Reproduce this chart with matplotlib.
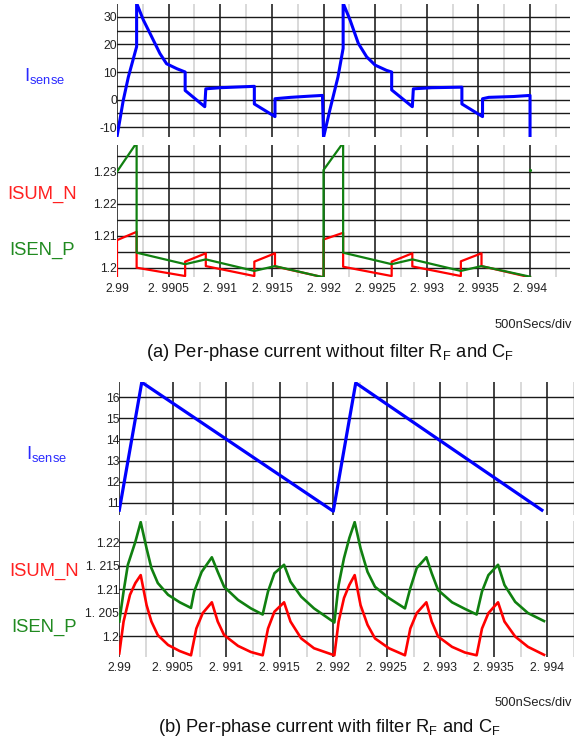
import numpy as np
import matplotlib
matplotlib.use('Agg')
from matplotlib import pyplot as plt

plt.rcParams['font.family'] = ['Liberation Sans', 'DejaVu Sans']

# ---- (a) フィルタなし ----
ta_isense = [2.99, 2.99006, 2.99011, 2.99019, 2.99019, 2.990255, 2.99032, 2.990416, 2.99048,
             2.99058, 2.99066, 2.99066, 2.99085, 2.99086, 2.991, 2.99133, 2.99133, 2.99153,
             2.99153, 2.99168, 2.99185, 2.99199, 2.992,
             2.99206, 2.99214, 2.99219, 2.99219, 2.992257, 2.992337, 2.992418, 2.9925, 2.99261,
             2.99266, 2.99266, 2.99286, 2.99287, 2.99305, 2.99334, 2.99334, 2.99354, 2.99354,
             2.9936, 2.99384, 2.994, 2.994]
va_isense = [-13.5, -0.4, 8.2, 19.2, 35, 28.9, 24.0, 16.7, 13.0,
             11.2, 10.0, 3.3, -2.6, 3.9, 4.3, 4.8, -1.6, -6.2,
             0.3, 0.8, 1.2, 1.5, -13.8,
             -4.0, 8.2, 18.6, 35, 28.9, 20.4, 15.5, 12.5, 10.6,
             10.0, 3.5, -2.6, 3.9, 4.3, 4.5, -1.6, -6.2, 0.3,
             0.8, 1.1, 1.5, -13.8]

ta_isum = [2.99, 2.99, 2.99019, 2.99019, 2.99066, 2.99066, 2.99086, 2.99086, 2.99133, 2.99133,
           2.99153, 2.99153, 2.992, 2.992, 2.99219, 2.99219, 2.99266, 2.99266, 2.99286, 2.99286,
           2.99333, 2.99333, 2.99353, 2.99353, 2.994]
va_isum = [1.1960, 1.2086, 1.2112, 1.2000, 1.1974, 1.2019, 1.2045, 1.2005, 1.1974, 1.2019,
           1.2045, 1.2004, 1.1970, 1.2088, 1.2109, 1.2003, 1.1974, 1.2019, 1.2045, 1.2004,
           1.1974, 1.2020, 1.2045, 1.2005, 1.1970]

ta_isen = [2.99, 2.99019, 2.99019, 2.99066, 2.99086, 2.99133, 2.99153, 2.992, 2.992,
           2.99219, 2.99219, 2.99266, 2.99286, 2.99333, 2.99353, 2.994]
va_isen = [1.2300, 1.2390, 1.2047, 1.2011, 1.2026, 1.1990, 1.2005, 1.1970, 1.2305,
           1.2390, 1.2047, 1.2011, 1.2026, 1.1990, 1.2005, 1.1972]
dot_t, dot_v = [2.994], [1.2305]

# ---- (b) フィルタあり ----
tb_isense = [2.99, 2.99021, 2.992, 2.99221, 2.99395]
vb_isense = [10.65, 16.71, 10.6, 16.68, 10.65]

tb_isen = [2.99, 2.99004, 2.99008, 2.99015, 2.9902, 2.990255, 2.9903, 2.99036, 2.990456,
           2.990565, 2.99067, 2.9907, 2.99077, 2.990865, 2.99092, 2.99098, 2.99111, 2.99123,
           2.99134, 2.99139, 2.99145, 2.99154, 2.9916, 2.9917, 2.99182, 2.99201,
           2.99205, 2.9921, 2.99215, 2.9922, 2.992255, 2.99232, 2.99239, 2.99252, 2.99267,
           2.99272, 2.99278, 2.99287, 2.99292, 2.99298, 2.99311, 2.99323, 2.99334, 2.99339,
           2.99345, 2.99354, 2.9936, 2.9937, 2.99382, 2.99397]
vb_isen = [1.2031, 1.2095, 1.2152, 1.2201, 1.2243, 1.2187, 1.2145, 1.2113, 1.2088,
           1.2072, 1.2060, 1.2095, 1.2137, 1.2168, 1.2137, 1.2105, 1.2077, 1.2059,
           1.2046, 1.2095, 1.2134, 1.2152, 1.2116, 1.2084, 1.2059, 1.2029,
           1.2109, 1.2166, 1.2209, 1.2243, 1.2187, 1.2137, 1.2105, 1.2081, 1.2059,
           1.2102, 1.2145, 1.2168, 1.2134, 1.2098, 1.2072, 1.2058, 1.2046, 1.2095,
           1.2130, 1.2152, 1.2109, 1.2073, 1.2049, 1.2032]

tb_isum = [2.99, 2.99004, 2.9901, 2.99015, 2.9902, 2.990255, 2.9903, 2.99036, 2.990456,
           2.990565, 2.99067, 2.99072, 2.99078, 2.990865, 2.99092, 2.99098, 2.99111, 2.99123,
           2.99134, 2.99139, 2.99145, 2.99154, 2.9916, 2.9917, 2.99182, 2.99201,
           2.99205, 2.9921, 2.99215, 2.9922, 2.992255, 2.99232, 2.99239, 2.99252, 2.99267,
           2.99272, 2.99278, 2.99287, 2.99292, 2.99298, 2.99311, 2.99323, 2.99334, 2.99339,
           2.99345, 2.99354, 2.9936, 2.9937, 2.99382, 2.99397]
vb_isum = [1.1963, 1.2031, 1.2088, 1.2113, 1.2130, 1.2066, 1.2031, 1.2002, 1.1981,
           1.1968, 1.1959, 1.2016, 1.2049, 1.2072, 1.2031, 1.2002, 1.1979, 1.1966,
           1.1959, 1.2016, 1.2052, 1.2072, 1.2031, 1.1995, 1.1974, 1.1959,
           1.2031, 1.2081, 1.2109, 1.2130, 1.2066, 1.2024, 1.1995, 1.1974, 1.1959,
           1.2016, 1.2049, 1.2072, 1.2031, 1.1999, 1.1977, 1.1965, 1.1959, 1.2016,
           1.2049, 1.2072, 1.2031, 1.1999, 1.1977, 1.1960]

# 目盛り
x_ticks = [2.99, 2.9905, 2.991, 2.9915, 2.992, 2.9925, 2.993, 2.9935, 2.994]
x_labels = ['2.99', '2. 9905', '2. 991', '2. 9915', '2. 992', '2. 9925', '2. 993', '2. 9935', '2. 994']
x_minor = [2.99025, 2.99075, 2.99125, 2.99175, 2.99225, 2.99275, 2.99325, 2.99375, 2.99425]
ya_top_ticks = [-10, -5, 0, 5, 10, 15, 20, 25, 30]
ya_top_labels = ['-10', '', '0', '', '10', '', '20', '', '30']
ya_bot_ticks = [1.2, 1.205, 1.21, 1.215, 1.22, 1.225, 1.23, 1.235]
ya_bot_labels = ['1.2', '', '1.21', '', '1.22', '', '1.23', '']
yb_top_ticks = [11, 12, 13, 14, 15, 16]
yb_top_labels = ['11', '12', '13', '14', '15', '16']
yb_bot_ticks = [1.2, 1.205, 1.21, 1.215, 1.22]
yb_bot_labels = ['1.2', '1. 205', '1.21', '1. 215', '1.22']

W, H = 574, 745
BLUE, RED, GREEN = '#0000ff', '#ff0000', '#108010'


def rect(l, t, r, b):
    # ピクセル座標 -> figure 座標
    return [l / W, 1 - b / H, (r - l) / W, (b - t) / H]


def fy(y):
    return 1 - y / H


def setup(ax, xlim, ylim, yt, yl, show_x):
    ax.set_xlim(*xlim)
    ax.set_ylim(*ylim)
    for s in ax.spines.values():
        s.set_visible(False)
    ax.set_xticks(x_ticks)
    ax.set_xticks(x_minor, minor=True)
    ax.set_xticklabels(x_labels if show_x else [''] * len(x_ticks))
    ax.set_yticks(yt)
    ax.set_yticklabels(yl)
    ax.tick_params(axis='both', which='both', length=0, labelsize=8.8, colors='#222222')
    ax.tick_params(axis='y', pad=0)
    ax.tick_params(axis='x', pad=4)
    ax.grid(True, which='major', axis='x', color='#222222', lw=1.2, zorder=0)
    ax.grid(True, which='minor', axis='x', color='#cfcfcf', lw=1.1, zorder=0)
    ax.grid(True, which='major', axis='y', color='#1a1a1a', lw=1.0, zorder=0)
    ax.set_axisbelow(True)


fig = plt.figure(figsize=(W / 100, H / 100), dpi=100)

xa = (2.99, 2.994387)
xb = (2.99, 2.99423)

# (a) 上段 Isense
ax1 = fig.add_axes(rect(117, 4, 570, 137))
setup(ax1, xa, (-13.6, 34.7), ya_top_ticks, ya_top_labels, False)
ax1.plot(ta_isense, va_isense, color=BLUE, lw=2.2)

# (a) 下段 ISUM_N / ISEN_P
ax2 = fig.add_axes(rect(117, 144.7, 570, 277))
setup(ax2, xa, (1.1971, 1.2384), ya_bot_ticks, ya_bot_labels, True)
ax2.plot(ta_isum, va_isum, color=RED, lw=1.6)
ax2.plot(ta_isen, va_isen, color=GREEN, lw=1.6)
ax2.plot(dot_t, dot_v, '.', color=GREEN, ms=2.5)

# (b) 上段 Isense
ax3 = fig.add_axes(rect(119.3, 382.3, 574, 515))
setup(ax3, xb, (10.42, 16.71), yb_top_ticks, yb_top_labels, False)
ax3.plot(tb_isense, vb_isense, color=BLUE, lw=2.3)

# (b) 下段
ax4 = fig.add_axes(rect(119.3, 520.7, 574, 656.7))
setup(ax4, xb, (1.1956, 1.2246), yb_bot_ticks, yb_bot_labels, True)
ax4.plot(tb_isum, vb_isum, color=RED, lw=1.9)
ax4.plot(tb_isen, vb_isen, color=GREEN, lw=1.9)

# 信号名ラベル
lab = dict(fontsize=13.3, va='baseline', ha='left')
fig.text(24 / W, fy(81), r'I$_\mathregular{sense}$', color='#2a2aff', **lab)
fig.text(7 / W, fy(199), 'ISUM_N', color='#ff2020', **lab)
fig.text(9.5 / W, fy(255), 'ISEN_P', color='#208a20', **lab)
fig.text(26 / W, fy(459), r'I$_\mathregular{sense}$', color='#2a2aff', **lab)
fig.text(9 / W, fy(576), 'ISUM_N', color='#ff2020', **lab)
fig.text(11.5 / W, fy(631.5), 'ISEN_P', color='#208a20', **lab)

# 時間軸（右端に収める）
fig.text(572 / W, fy(327.5), '500nSecs/div', fontsize=9.3, color='#222222', va='baseline', ha='right')
fig.text(572 / W, fy(706.5), '500nSecs/div', fontsize=9.3, color='#222222', va='baseline', ha='right')

# キャプション
fig.text(146 / W, fy(357.5), r'(a) Per-phase current without filter R$_\mathregular{F}$ and C$_\mathregular{F}$',
         fontsize=13.2, color='#111111', va='baseline')
fig.text(158 / W, fy(732), r'(b) Per-phase current with filter R$_\mathregular{F}$ and C$_\mathregular{F}$',
         fontsize=13.2, color='#111111', va='baseline')

fig.savefig('out.png', dpi=100)
